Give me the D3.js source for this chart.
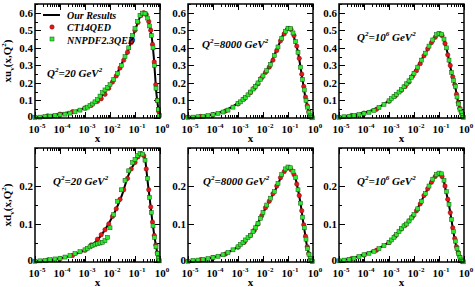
<!DOCTYPE html>
<html><head><meta charset="utf-8">
<script src="https://cdn.jsdelivr.net/npm/d3@7"></script>
<style>body{margin:0;background:#fff}svg{display:block}text{font-family:"Liberation Serif","DejaVu Serif",serif;font-weight:bold}</style>
</head><body>
<svg id="c" width="475" height="287"></svg>
<script>
// log10(x) grids
const curveLogX = [-5,-4.5,-4,-3.5,-3,-2.5,-2.25,-2,-1.75,-1.5,-1.3,-1.15,-1,-0.9,-0.8,-0.7,-0.6,-0.5,-0.4,-0.32,-0.25,-0.2,-0.15,-0.1,-0.06,-0.03,0];
const nnLogX = [-5,-4.8,-4.6,-4.4,-4.2,-4,-3.8,-3.6,-3.4,-3.2,-3.0,-2.9,-2.8,-2.7,-2.6,-2.5,-2.4,-2.3,-2.2,-2.1,-2.0,-1.85,-1.7,-1.55,-1.4,-1.25,-1.1,-1.0,-0.9,-0.8,-0.7,-0.6,-0.5,-0.42,-0.35,-0.28,-0.22,-0.16,-0.11,-0.07,-0.03];
const ctLogX = [-4.5,-4,-3.5,-3,-2.75,-2.5,-2.35,-2.2,-2.05,-1.9,-1.75,-1.6,-1.45,-1.3,-1.15,-1.0,-0.88,-0.76,-0.65,-0.55,-0.45,-0.37,-0.3,-0.23,-0.17,-0.11,-0.06];

// xu_v, Q^2 = 20
const ourU20 = [.004,.012,.023,.037,.058,.097,.14,.19,.245,.32,.375,.435,.5,.54,.575,.598,.6,.575,.52,.45,.35,.25,.15,.087,.04,.012,0];
const nnU20 = [.003,.005,.008,.011,.014,.018,.022,.028,.035,.045,.056,.062,.07,.08,.092,.105,.125,.145,.16,.175,.19,.22,.255,.3,.35,.4,.47,.51,.55,.585,.598,.595,.57,.525,.47,.4,.3,.17,.1,.05,.013];
const ctU20 = [.012,.022,.036,.057,.072,.095,.11,.135,.17,.205,.24,.285,.33,.375,.43,.5,.545,.585,.6,.59,.55,.5,.42,.32,.19,.1,.04];
// xu_v, Q^2 = 8000
const ourU8000 = [.004,.01,.02,.045,.085,.15,.195,.245,.295,.375,.44,.49,.515,.51,.48,.43,.375,.29,.2,.13,.08,.05,.025,.01,.004,.001,0];
const nnU8000 = [.003,.005,.007,.01,.014,.019,.026,.034,.045,.062,.082,.092,.105,.118,.132,.148,.165,.18,.2,.22,.24,.27,.305,.355,.405,.455,.495,.512,.51,.485,.435,.375,.29,.22,.16,.1,.062,.03,.012,.005,.001];
const ctU8000 = [.009,.019,.04,.08,.11,.145,.17,.195,.23,.26,.29,.33,.385,.44,.48,.51,.505,.47,.41,.34,.25,.18,.12,.07,.035,.012,.004];
// xu_v, Q^2 = 1e6
const ourU1e6 = [.005,.015,.03,.055,.1,.16,.205,.26,.32,.38,.43,.465,.485,.475,.445,.395,.33,.26,.205,.155,.1,.072,.048,.028,.012,.004,0];
const nnU1e6 = [.004,.007,.01,.014,.019,.026,.033,.043,.06,.078,.098,.11,.122,.135,.148,.162,.178,.195,.212,.232,.255,.29,.33,.37,.41,.445,.475,.482,.478,.45,.4,.33,.26,.215,.18,.12,.08,.05,.03,.015,.004];
const ctU1e6 = [.014,.028,.05,.095,.125,.158,.18,.205,.24,.27,.31,.355,.395,.43,.46,.48,.47,.425,.36,.3,.235,.19,.135,.088,.055,.03,.012];
// xd_v, Q^2 = 20
const ourD20 = [.002,.005,.009,.018,.031,.058,.08,.107,.14,.18,.222,.245,.262,.275,.284,.285,.272,.215,.16,.115,.08,.058,.038,.022,.01,.003,0];
const nnD20 = [.002,.003,.004,.006,.008,.01,.013,.017,.022,.027,.032,.036,.04,.043,.046,.048,.05,.052,.056,.065,.09,.125,.16,.19,.215,.24,.262,.27,.28,.285,.284,.268,.22,.17,.13,.095,.065,.04,.022,.01,.003];
const ctD20 = [.005,.009,.017,.031,.045,.06,.072,.085,.1,.12,.14,.165,.19,.22,.245,.262,.277,.285,.28,.245,.19,.145,.105,.07,.045,.024,.01];
// xd_v, Q^2 = 8000
const ourD8000 = [.002,.006,.012,.022,.04,.071,.098,.129,.16,.19,.22,.238,.249,.245,.235,.22,.19,.155,.108,.075,.045,.03,.018,.008,.003,.001,0];
const nnD8000 = [.002,.004,.005,.007,.009,.012,.015,.019,.025,.032,.04,.046,.052,.058,.064,.07,.08,.09,.102,.115,.13,.15,.168,.185,.207,.23,.245,.25,.248,.238,.222,.19,.155,.118,.09,.06,.035,.02,.01,.004,.001];
const ctD8000 = [.006,.012,.021,.039,.052,.07,.083,.1,.122,.143,.16,.18,.2,.222,.238,.248,.243,.23,.205,.175,.135,.098,.068,.04,.022,.01,.003];
// xd_v, Q^2 = 1e6
const ourD1e6 = [.003,.01,.02,.033,.053,.089,.105,.124,.155,.187,.213,.228,.235,.228,.21,.18,.15,.11,.07,.043,.028,.017,.009,.004,.002,.0005,0];
const nnD1e6 = [.003,.005,.007,.01,.014,.019,.023,.028,.035,.043,.052,.058,.065,.072,.08,.088,.095,.1,.108,.116,.125,.14,.16,.18,.2,.218,.23,.234,.232,.215,.185,.152,.112,.08,.055,.035,.022,.012,.005,.002,.0005];
const ctD1e6 = [.009,.018,.031,.051,.068,.087,.097,.108,.12,.135,.153,.175,.193,.21,.225,.232,.225,.2,.165,.13,.09,.062,.04,.025,.014,.006,.002];

const xTickExp = [-5,-4,-3,-2,-1,0];
const yTicksTop = [0,0.1,0.2,0.3,0.4,0.5,0.6];
const yTicksBottom = [0,0.1,0.2];
const legendLabels = ["Our Results","CT14QED","NNPDF2.3QED"];

const panels = [
  {col:0,row:0,our:ourU20,nn:nnU20,ct:ctU20,q:"20",lx:47,ly:77},
  {col:1,row:0,our:ourU8000,nn:nnU8000,ct:ctU8000,q:"8000",lx:202,ly:48},
  {col:2,row:0,our:ourU1e6,nn:nnU1e6,ct:ctU1e6,q:"1e6",lx:357,ly:41},
  {col:0,row:1,our:ourD20,nn:nnD20,ct:ctD20,q:"20",lx:53,ly:185},
  {col:1,row:1,our:ourD8000,nn:nnD8000,ct:ctD8000,q:"8000",lx:203,ly:185},
  {col:2,row:1,our:ourD1e6,nn:nnD1e6,ct:ctD1e6,q:"1e6",lx:357,ly:185}
];

const svg = d3.select("#c");
const colX = [35,188,339], W = 125;
const rowY = [4,148], H = 114;
const yMax = [0.65,0.3];
const RED="#e8161b", REDS="#7a0000", GRN="#33e633", GRNS="#0a5a0a";

panels.forEach(p=>{
  const x0 = colX[p.col], y0 = rowY[p.row];
  const x = d3.scaleLog().domain([1e-5,1]).range([x0,x0+W]);
  const y = d3.scaleLinear().domain([0,yMax[p.row]]).range([y0+H,y0]);
  const g = svg.append("g");
  const minors = x.ticks().filter(v=>!xTickExp.some(e=>Math.abs(Math.log10(v)-e)<1e-6));
  const tk = g.append("g").attr("stroke","#000").attr("stroke-width",1);
  minors.forEach(v=>{
    const px = Math.round(x(v))+0.5;
    tk.append("line").attr("x1",px).attr("x2",px).attr("y1",y0+H).attr("y2",y0+H-3);
    tk.append("line").attr("x1",px).attr("x2",px).attr("y1",y0).attr("y2",y0+3);
  });
  xTickExp.forEach(e=>{
    const px = Math.round(x(Math.pow(10,e)))+0.5;
    tk.append("line").attr("x1",px).attr("x2",px).attr("y1",y0+H).attr("y2",y0+H-6);
    tk.append("line").attr("x1",px).attr("x2",px).attr("y1",y0).attr("y2",y0+6);
  });
  const ymaj = p.row===0?yTicksTop:yTicksBottom;
  for(let v=0; v<=yMax[p.row]+1e-9; v+=0.05){
    const major = ymaj.some(m=>Math.abs(m-v)<1e-6);
    const py = Math.round(y(v))+0.5, L = major?6:3;
    tk.append("line").attr("x1",x0).attr("x2",x0+L).attr("y1",py).attr("y2",py);
    tk.append("line").attr("x1",x0+W).attr("x2",x0+W-L).attr("y1",py).attr("y2",py);
  }
  const line = d3.line().x(d=>x(Math.pow(10,d[0]))).y(d=>y(d[1])).curve(d3.curveMonotoneX);
  g.append("path").datum(curveLogX.map((e,i)=>[e,p.our[i]])).attr("d",line)
    .attr("fill","none").attr("stroke","#000").attr("stroke-width",2);
  g.selectAll(".ct").data(ctLogX.map((e,i)=>[e,p.ct[i]])).join("circle")
    .attr("cx",d=>x(Math.pow(10,d[0]))).attr("cy",d=>y(d[1])).attr("r",2.2)
    .attr("fill",RED).attr("stroke",REDS).attr("stroke-width",0.5);
  g.selectAll(".nn").data(nnLogX.map((e,i)=>[e,p.nn[i]])).join("rect")
    .attr("x",d=>x(Math.pow(10,d[0]))-2).attr("y",d=>y(d[1])-2).attr("width",4).attr("height",4)
    .attr("fill",GRN).attr("stroke",GRNS).attr("stroke-width",0.5);
  g.append("rect").attr("x",x0).attr("y",y0).attr("width",W).attr("height",H)
    .attr("fill","none").attr("stroke","#000").attr("stroke-width",1.5);
  ymaj.forEach(v=>{
    g.append("text").attr("x",x0-2).attr("y",y(v)+(v===0?2:4)).attr("text-anchor","end")
      .attr("font-size",11).text(v===0?"0":d3.format(".1f")(v));
  });
  xTickExp.forEach(e=>{
    const t = g.append("text").attr("x",x(Math.pow(10,e))+2).attr("y",y0+H+15).attr("text-anchor","middle").attr("font-size",11);
    t.append("tspan").text("10");
    t.append("tspan").attr("dy",-5).attr("font-size",7).text(e===0?"0":"-"+(-e));
  });
  g.append("text").attr("x",x0+W/2).attr("y",y0+H+24).attr("text-anchor","middle").attr("font-size",11).text("x");
  const q = g.append("text").attr("x",p.lx).attr("y",p.ly).attr("font-size",11).attr("font-style","italic");
  q.append("tspan").text("Q");
  q.append("tspan").attr("dy",-5).attr("font-size",7).text("2");
  if(p.q==="1e6"){
    q.append("tspan").attr("dy",5).text("=10");
    q.append("tspan").attr("dy",-5).attr("font-size",7).text("6");
    q.append("tspan").attr("dy",5).text(" GeV");
  } else {
    q.append("tspan").attr("dy",5).text("="+p.q+" GeV");
  }
  q.append("tspan").attr("dy",-5).attr("font-size",7).text("2");
});

[["u",rowY[0]+H/2],["d",rowY[1]+H/2]].forEach(([f,cy])=>{
  const t = svg.append("text").attr("transform",`translate(11,${cy}) rotate(-90)`).attr("text-anchor","middle").attr("font-size",11);
  t.append("tspan").text("x"+f);
  t.append("tspan").attr("dy",3).attr("font-size",7).text("v");
  t.append("tspan").attr("dy",-3).text("(x,Q");
  t.append("tspan").attr("dy",-5).attr("font-size",7).text("2");
  t.append("tspan").attr("dy",5).text(")");
});

const lg = svg.append("g").attr("font-size",10).attr("font-style","italic");
lg.append("line").attr("x1",43).attr("x2",60).attr("y1",15).attr("y2",15).attr("stroke","#000").attr("stroke-width",2);
lg.append("circle").attr("cx",52).attr("cy",27).attr("r",2.2).attr("fill",RED).attr("stroke",REDS).attr("stroke-width",0.5);
lg.append("rect").attr("x",50).attr("y",37).attr("width",4).attr("height",4).attr("fill",GRN).attr("stroke",GRNS).attr("stroke-width",0.5);
legendLabels.forEach((s,i)=>lg.append("text").attr("x",67).attr("y",18.5+i*12.5).text(s));
</script>
</body></html>
